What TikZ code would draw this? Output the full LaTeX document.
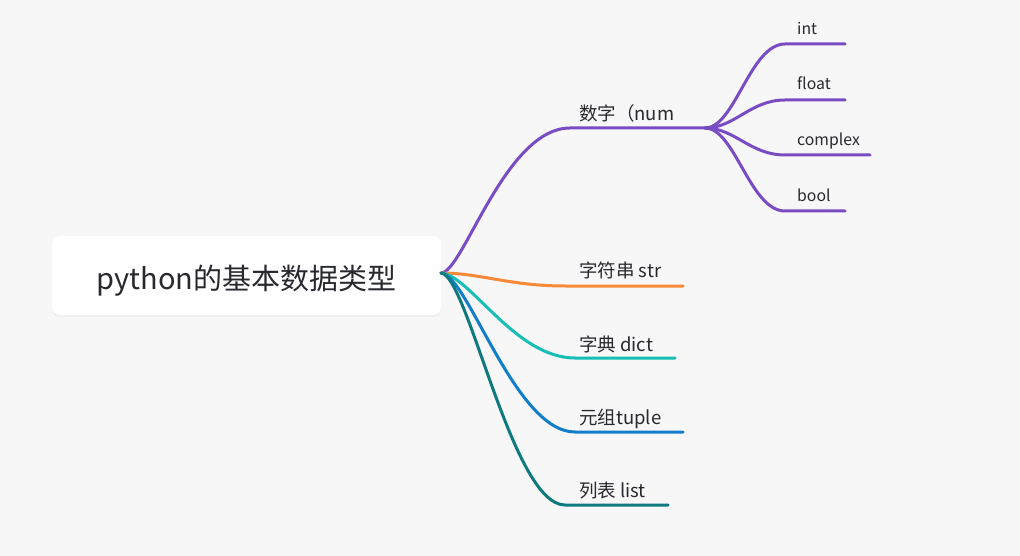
\documentclass[tikz,border=0pt]{standalone}
\usepackage{fontspec}
\setmainfont{Noto Sans CJK SC}
\usetikzlibrary{shadows}

\definecolor{bgcol}{RGB}{247,247,247}
\definecolor{txtcol}{RGB}{40,41,46}
\definecolor{numcol}{RGB}{122,76,196}
\definecolor{strcol}{RGB}{247,137,56}
\definecolor{dictcol}{RGB}{22,190,180}
\definecolor{tuplecol}{RGB}{18,125,200}
\definecolor{listcol}{RGB}{14,122,128}

\begin{document}
\begin{tikzpicture}[
  x=1pt,
  y=-1pt,
  line cap=round,
  line join=round,
  branch/.style={line width=3pt},
  mainlabel/.style={
    anchor=base west,
    inner sep=0pt,
    text=txtcol,
    font=\fontsize{18.5}{21}\selectfont
  },
  sublabel/.style={
    anchor=base west,
    inner sep=0pt,
    text=txtcol,
    font=\fontsize{15.8}{18}\selectfont
  }
]
  % Фон
  \fill[bgcol]
    (0,0) rectangle (1020,556);
  \useasboundingbox
    (0,0) rectangle (1020,556);

  % Корень
  \node[
    fill=white,
    rounded corners=8pt,
    minimum width=389pt,
    minimum height=79pt,
    drop shadow={opacity=0.07,shadow xshift=0pt,shadow yshift=-2pt}
  ] (root) at (246.5,275.5) {};

  \node[
    anchor=base,
    inner sep=0pt,
    text=txtcol,
    font=\fontsize{29}{32}\selectfont
  ] (roottext) at (246.5,289) {python的基本数据类型};

  \coordinate (hub) at (441,273);

  % Ветвь: 数字
  \coordinate (numL) at (570,128);
  \coordinate (numR) at (705,128);
  \node[mainlabel] (num) at (579,121) {数字（num};

  \draw[branch,numcol]
    (hub)
    .. controls (463,273) and (505,128) ..
    (numL) -- (numR);

  % Подветви числа
  \coordinate (intL) at (785,44);
  \coordinate (intR) at (845,44);
  \coordinate (floatL) at (785,100);
  \coordinate (floatR) at (845,100);
  \coordinate (complexL) at (785,155);
  \coordinate (complexR) at (870,155);
  \coordinate (boolL) at (785,211);
  \coordinate (boolR) at (845,211);

  \node[sublabel] (int) at (797,35) {int};
  \node[sublabel] (float) at (797,90) {float};
  \node[sublabel] (complex) at (797,146) {complex};
  \node[sublabel] (bool) at (797,202) {bool};

  \draw[branch,numcol]
    (numR)
    .. controls (735,128) and (750,44) ..
    (intL) -- (intR);

  \draw[branch,numcol]
    (numR)
    .. controls (735,128) and (750,100) ..
    (floatL) -- (floatR);

  \draw[branch,numcol]
    (numR)
    .. controls (735,128) and (750,155) ..
    (complexL) -- (complexR);

  \draw[branch,numcol]
    (numR)
    .. controls (735,128) and (750,211) ..
    (boolL) -- (boolR);

  % Ветвь: 字符串
  \coordinate (strL) at (565,286);
  \coordinate (strR) at (683,286);
  \node[mainlabel] (str) at (579,277) {字符串 str};

  \draw[branch,strcol]
    (hub)
    .. controls (480,273) and (510,286) ..
    (strL) -- (strR);

  % Ветвь: 字典
  \coordinate (dictL) at (575,358);
  \coordinate (dictR) at (675,358);
  \node[mainlabel] (dict) at (579,351) {字典 dict};

  \draw[branch,dictcol]
    (hub)
    .. controls (470,275) and (515,358) ..
    (dictL) -- (dictR);

  % Ветвь: 元组
  \coordinate (tupleL) at (575,432);
  \coordinate (tupleR) at (683,432);
  \node[mainlabel] (tuple) at (579,424) {元组tuple};

  \draw[branch,tuplecol]
    (hub)
    .. controls (468,275) and (515,432) ..
    (tupleL) -- (tupleR);

  % Ветвь: 列表
  \coordinate (listL) at (565,505);
  \coordinate (listR) at (668,505);
  \node[mainlabel] (list) at (579,497) {列表 list};

  \draw[branch,listcol]
    (hub)
    .. controls (468,275) and (512,505) ..
    (listL) -- (listR);
\end{tikzpicture}
\end{document}
